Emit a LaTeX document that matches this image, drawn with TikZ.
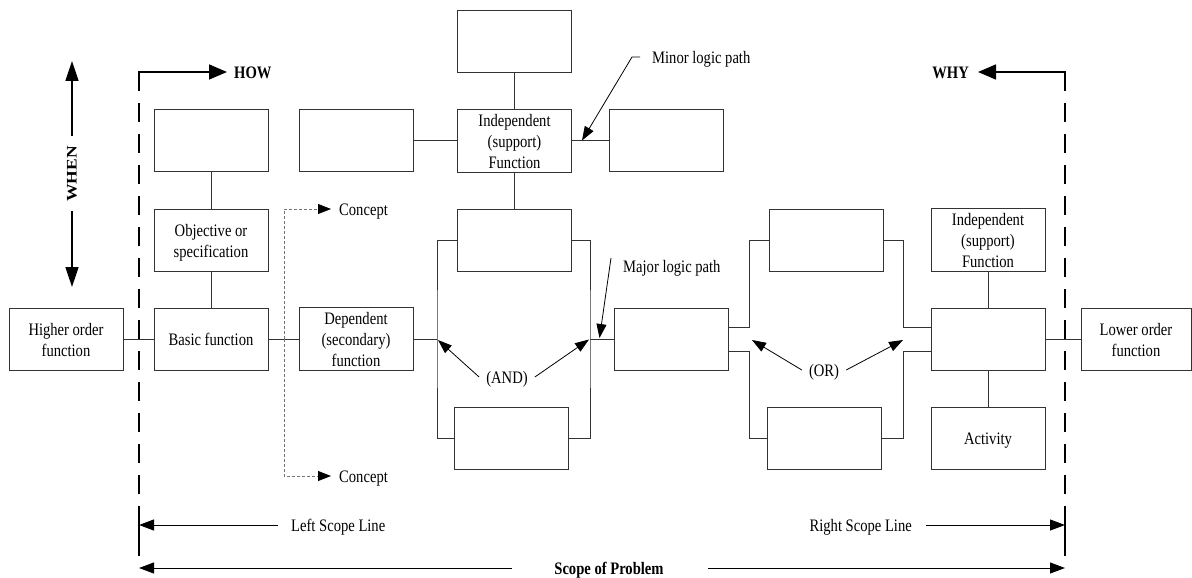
\documentclass[tikz,border=0pt]{standalone}
\usepackage{graphicx}
\usepackage{fontspec}
\setmainfont{Liberation Serif}
\usetikzlibrary{arrows.meta,calc}
% tall lettering: every text is set a fifth taller than wide, sitting a little low
\newcommand{\vtext}[1]{\raisebox{-2.5pt}[\height][\depth]{\scalebox{1}[1.2]{\begin{tabular}{@{}c@{}}#1\end{tabular}}}}
\begin{document}
\begin{tikzpicture}[x=1pt,y=-1pt,
  font=\fontsize{14.6}{17.5}\selectfont,
  fbox/.style={draw=black!80, line width=0.8pt, minimum width=114pt, minimum height=62pt, inner sep=0pt, align=center},
  conn/.style={draw=black!80, line width=0.8pt},
  ptr/.style={line width=0.8pt, -{Triangle[length=14pt,width=10pt]}},
  bigarrow/.style={line width=1.6pt, -{Triangle[length=18pt,width=15pt]}},
  scopeline/.style={line width=1.8pt, dash pattern=on 19pt off 12pt},
  scopearrow/.style={line width=1pt, -{Triangle[length=15pt,width=11pt]}},
  concept/.style={draw=black!55, line width=0.8pt, dash pattern=on 3pt off 2pt, -{Triangle[length=13pt,width=10pt,color=black]}},
  lbl/.style={inner sep=0pt},
  boldlbl/.style={inner sep=0pt, font=\fontsize{14.6}{16}\selectfont\bfseries},
]
\useasboundingbox (0,0) rectangle (1192,578);

% function boxes
\node[fbox] (tla)   at (211,140.5) {};
\node[fbox] (tlb)   at (356,140.5) {};
\node[fbox] (top)   at (514.5,41)  {};
\node[fbox] (indep) at (514.5,140.5) {\vtext{Independent\\(support)\\Function}};
\node[fbox] (rbox)  at (666.5,140.5) {};
\node[fbox] (obj)   at (211,240) {\vtext{Objective or\\specification}};
\node[fbox] (anda)  at (514.5,240) {};
\node[fbox] (ora)   at (826,240) {};
\node[fbox] (indepb) at (988,240) {\vtext{Independent\\(support)\\Function}};
\node[fbox] (higher) at (66,339) {\vtext{Higher order\\function}};
\node[fbox] (basic) at (211,339) {\vtext{Basic function}};
\node[fbox] (dep)   at (356,339) {\vtext{Dependent\\(secondary)\\function}};
\node[fbox] (mid)   at (671,339) {};
\node[fbox] (rc)    at (988,339) {};
\node[fbox, minimum width=110pt] (lower) at (1136,339) {\vtext{Lower order\\function}};
\node[fbox] (andb)  at (511.5,438) {};
\node[fbox] (orb)   at (824,438) {};
\node[fbox] (act)   at (988,438) {\vtext{Activity}};

% connectors
\draw[conn] (higher) -- (basic);
\draw[conn] (tla) -- (obj);
\draw[conn] (obj) -- (basic);
\draw[conn] (basic) -- (dep);
\draw[conn] (tlb) -- (indep);
\draw[conn] (indep) -- (rbox);
\draw[conn] (top) -- (indep);
\draw[conn] (indep) -- (anda);

% AND branch
\coordinate (aL) at (437,339);
\coordinate (aR) at (590,339);
\draw[conn] (dep.east) -- (aL);
\draw[conn] (anda.west) -| (aL) |- (andb.west);
\draw[conn] (anda.east) -| (aR) |- (andb.east);
\draw[conn] (aR) -- (mid.west);

% OR branch
\draw[conn] ($(mid.east)+(0,-12)$) -| ($(ora.west)+(-19,0)$) -- (ora.west);
\draw[conn] ($(mid.east)+(0,12)$) -| ($(orb.west)+(-17,0)$) -- (orb.west);
\draw[conn] (ora.east) -| ($(rc.west)+(-27,-12)$) -- ($(rc.west)+(0,-12)$);
\draw[conn] (orb.east) -| ($(rc.west)+(-27,12)$) -- ($(rc.west)+(0,12)$);
\draw[conn] (indepb) -- (rc);
\draw[conn] (rc) -- (act);
\draw[conn] (rc) -- (lower);

% concepts
\node[lbl, anchor=west] (ca) at (339,209) {\vtext{Concept}};
\node[lbl, anchor=west] (cb) at (339,476) {\vtext{Concept}};
\coordinate (cv) at (284,339);
\draw[concept] (cv) |- ([xshift=-8pt]ca.west);
\draw[concept] (cv) |- ([xshift=-8pt]cb.west);

% logic path labels
\node[lbl, anchor=west] (minor) at (652,57) {\vtext{Minor logic path}};
\draw[ptr] ([xshift=-12pt]minor.west) -- ++(-8,0) -- (582,140.5);
\node[lbl, anchor=west] (major) at (623,266) {\vtext{Major logic path}};
\draw[ptr] ([xshift=-12pt,yshift=8pt]major.west) -- (599.5,338);

\node[lbl] (and) at (507,377) {\vtext{(AND)}};
\draw[ptr] ([xshift=-7pt]and.west) -- (438,340);
\draw[ptr] ([xshift=7pt]and.east) -- (589,339.5);
\node[lbl] (or) at (824,370) {\vtext{(OR)}};
\draw[ptr] ([xshift=-7pt]or.west) -- (752,340);
\draw[ptr] ([xshift=7pt]or.east) -- (903,340);

% scope lines
\coordinate (lt) at (139,72);
\coordinate (rt) at (1065,72);
\draw[scopeline] (lt) -- (139,566);
\draw[scopeline] (rt) -- (1065,566);
\node[boldlbl, anchor=west] (how) at (234,72) {\vtext{HOW}};
\node[boldlbl, anchor=east] (why) at (969,72) {\vtext{WHY}};
\draw[bigarrow] ([xshift=-0.9pt]lt) -- ([xshift=-7pt]how.west);
\draw[bigarrow] ([xshift=0.9pt]rt) -- ([xshift=9pt]why.east);

% when
\node[boldlbl, rotate=90] (when) at (72,174) {\scalebox{1.2}[1]{WHEN}};
\draw[line width=1.6pt, -{Triangle[length=20pt,width=13pt]}] ([yshift=10pt]when.east) -- (72,61);
\draw[line width=1.6pt, -{Triangle[length=20pt,width=13pt]}] ([yshift=-9pt]when.west) -- (72,287);

\node[lbl, anchor=west] (lsl) at (291,525) {\vtext{Left Scope Line}};
\draw[scopearrow] ([xshift=-13pt]lsl.west) -- (139,525);
\draw[line width=1.8pt] (139,513) -- (139,537);
\node[lbl, anchor=east] (rsl) at (912,525) {\vtext{Right Scope Line}};
\draw[scopearrow] ([xshift=14pt]rsl.east) -- (1065,525);
\draw[line width=1.8pt] (1065,513) -- (1065,537);

\node[boldlbl] (sop) at (609,568) {\vtext{Scope of Problem}};
\draw[scopearrow] (512,568) -- (139,568);
\draw[scopearrow] (708,568) -- (1065,568);
\end{tikzpicture}
\end{document}
